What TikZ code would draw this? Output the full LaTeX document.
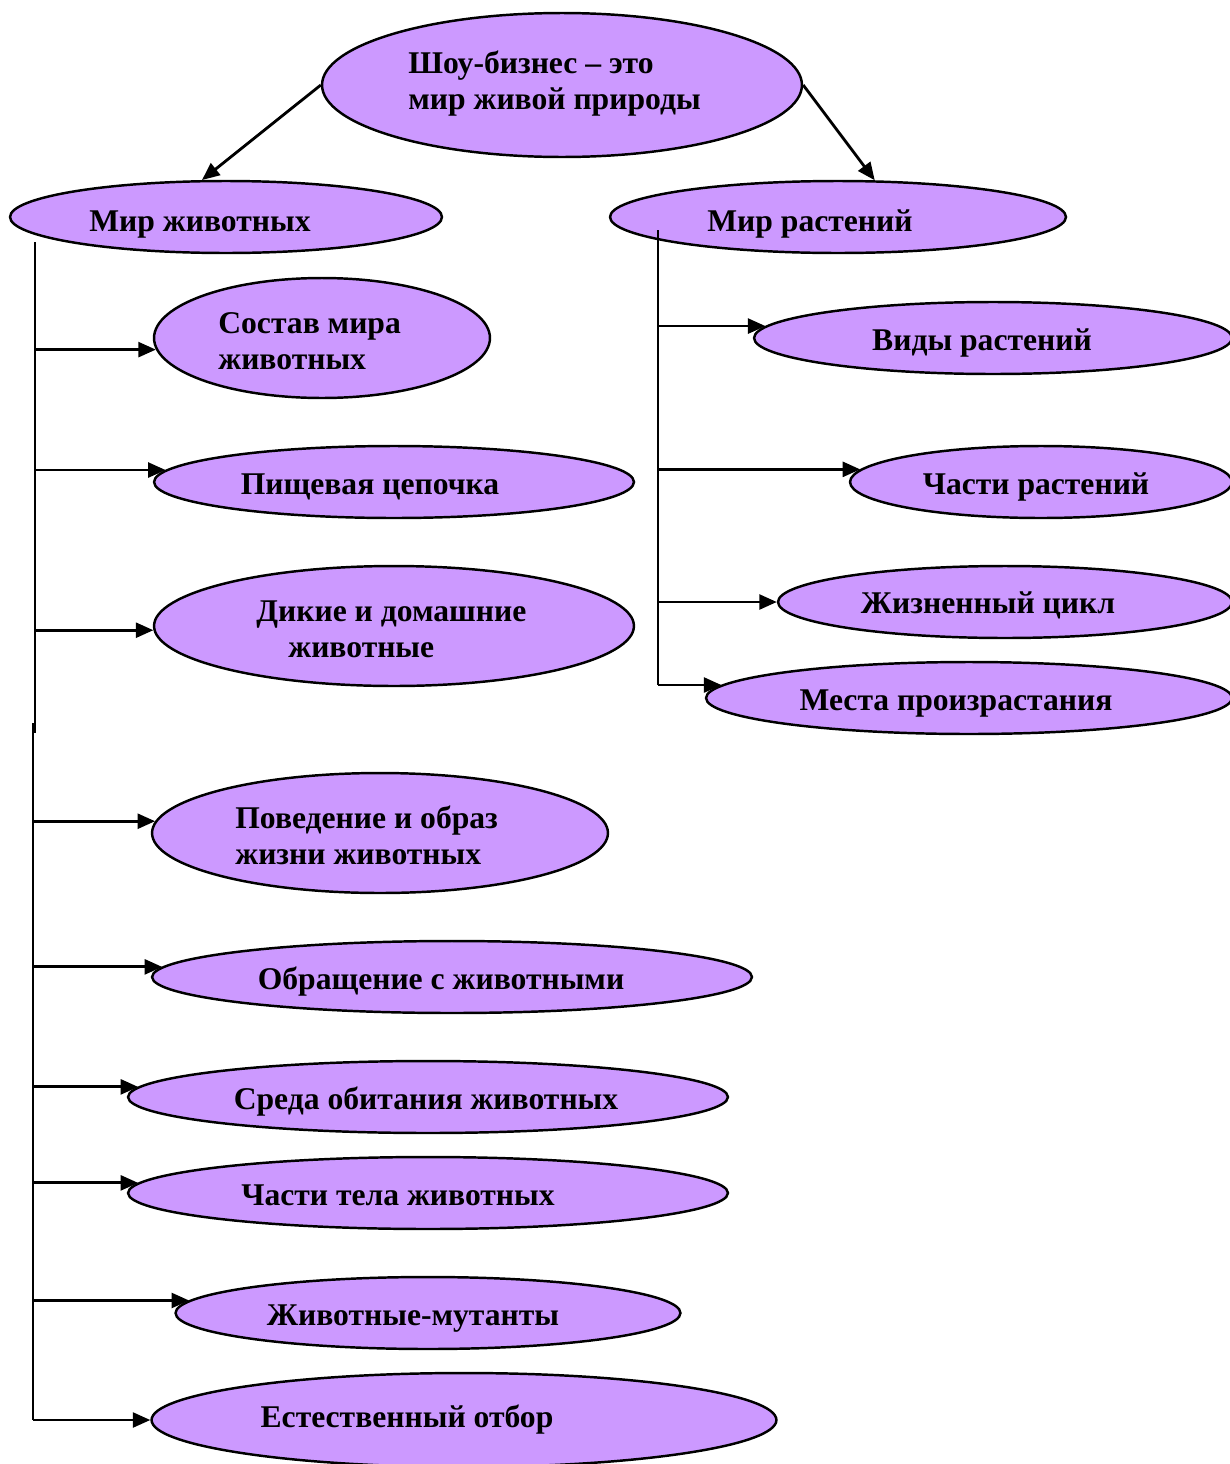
\documentclass[tikz,border=0pt]{standalone}
\usepackage{fontspec}
\setmainfont{Liberation Serif}
\usetikzlibrary{shapes.geometric,arrows.meta}
\definecolor{lilac}{RGB}{204,153,255}
\tikzset{
  bubble/.style={ellipse, draw, line width=1.4pt, fill=lilac, inner sep=0pt},
  caption/.style={font=\bfseries\fontsize{18}{20.4}\selectfont, align=left, inner sep=0pt},
  link/.style={line width=1.6pt, -{Triangle[length=10pt,width=8.5pt]}},
  trunk/.style={line width=1.6pt}
}
\begin{document}
\begin{tikzpicture}[x=0.02cm,y=-0.02cm]
\useasboundingbox (0,0) rectangle (1230,1464);

% ellipses
\node[bubble, minimum width=9.6cm, minimum height=2.88cm] (show) at (562,85) {};
\node[bubble, minimum width=8.64cm, minimum height=1.44cm] (animals) at (226,217) {};
\node[bubble, minimum width=9.12cm, minimum height=1.44cm] (plants) at (838,217) {};

\node[bubble, minimum width=6.72cm, minimum height=2.4cm] (comp) at (322,338) {};
\node[bubble, minimum width=9.6cm, minimum height=1.44cm] (food) at (394,482) {};
\node[bubble, minimum width=9.6cm, minimum height=2.4cm] (wild) at (394,626) {};
\node[bubble, minimum width=9.12cm, minimum height=2.4cm] (behav) at (380,833) {};
\node[bubble, minimum width=12cm, minimum height=1.44cm] (treat) at (452,977) {};
\node[bubble, minimum width=12cm, minimum height=1.44cm] (habitat) at (428,1097) {};
\node[bubble, minimum width=12cm, minimum height=1.44cm] (body) at (428,1193) {};
\node[bubble, minimum width=10.1cm, minimum height=1.44cm] (mutant) at (428,1313) {};
\node[bubble, minimum width=12.5cm, minimum height=1.88cm] (select) at (464,1420) {};

\node[bubble, minimum width=9.56cm, minimum height=1.44cm] (kinds) at (993,338) {};
\node[bubble, minimum width=7.64cm, minimum height=1.44cm] (parts) at (1041,482) {};
\node[bubble, minimum width=9.08cm, minimum height=1.44cm] (cycle) at (1005,602) {};
\node[bubble, minimum width=10.52cm, minimum height=1.44cm] (places) at (969,698) {};

% texts (multi-line ones sit on the baseline of their last line)
\node[caption, anchor=base west] (showtxt) at (408,109) {Шоу-бизнес – это\\мир живой природы};
\node[caption, anchor=base] (animalstxt) at (200,231) {Мир животных};
\node[caption, anchor=base] (plantstxt) at (810,231) {Мир растений};
\node[caption, anchor=base west] (comptxt) at (218,369) {Состав мира\\животных};
\node[caption, anchor=base] (foodtxt) at (370,494) {Пищевая цепочка};
\node[caption, anchor=base west] (wildtxt) at (256,657) {Дикие и домашние\\\hspace*{0.64cm}животные};
\node[caption, anchor=base west] (behavtxt) at (235,864) {Поведение и образ\\жизни животных};
\node[caption, anchor=base] (treattxt) at (441,989) {Обращение с животными};
\node[caption, anchor=base] (habitattxt) at (426,1109) {Среда обитания животных};
\node[caption, anchor=base] (bodytxt) at (398,1205) {Части тела животных};
\node[caption, anchor=base] (mutanttxt) at (413,1325) {Животные-мутанты};
\node[caption, anchor=base] (selecttxt) at (407,1427) {Естественный отбор};
\node[caption, anchor=base] (kindstxt) at (982,350) {Виды растений};
\node[caption, anchor=base] (partstxt) at (1036,494) {Части растений};
\node[caption, anchor=base] (cycletxt) at (988,613) {Жизненный цикл};
\node[caption, anchor=base] (placestxt) at (956,710) {Места произрастания};

% top arrows
\draw[link] (show.west) -- (animals.123);
\draw[link] (show.east) -- (plants.45);

% animal branch
\coordinate (ltop) at (35,242);
\coordinate (lmid) at (35,733);
\coordinate (lmid2) at (33,723);
\coordinate (lbot) at (33,1420);
\draw[trunk] (ltop) -- (lmid);
\draw[trunk] (lmid2) -- (lbot);
\draw[link] (ltop |- comp.184) -- (comp.184);
\draw[link] (ltop |- food.177) -- (food.177);
\draw[link] (ltop |- wild.181) -- (wild.181);
\draw[link] (lbot |- behav.177) -- (behav.177);
\draw[link] (lbot |- treat.178) -- (treat.178);
\draw[link] (lbot |- habitat.178) -- (habitat.178);
\draw[link] (lbot |- body.178) -- (body.178);
\draw[link] (lbot |- mutant.177) -- (mutant.177);
\draw[link] (lbot) -- (select.west);

% plant branch
\coordinate (rtop) at (658,230);
\draw[trunk] (rtop) -- (rtop |- places.177);
\draw[link] (rtop |- kinds.177) -- (kinds.177);
\draw[link] (rtop |- parts.176) -- (parts.176);
\draw[link] (rtop |- cycle.west) -- (cycle.west);
\draw[link] (rtop |- places.177) -- (places.177);

\end{tikzpicture}
\end{document}
